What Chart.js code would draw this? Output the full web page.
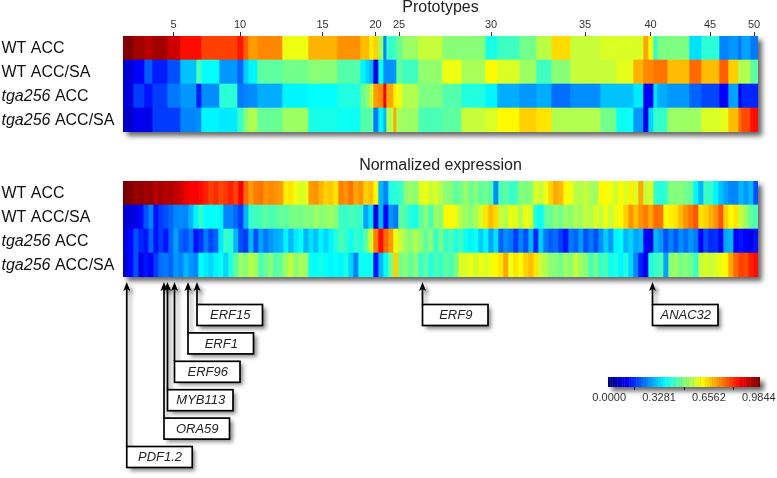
<!DOCTYPE html>
<html>
<head>
<meta charset="utf-8">
<script src="https://cdn.jsdelivr.net/npm/chart.js@4"></script>
<style>
html,body{margin:0;padding:0;background:#fff;width:777px;height:478px;overflow:hidden}
canvas{position:absolute}
</style>
</head>
<body>
<canvas id="proto" width="777" height="150" style="left:0;top:0;width:777px;height:150px"></canvas>
<canvas id="expr" width="777" height="328" style="left:0;top:150px;width:777px;height:328px"></canvas>
<canvas id="bar" width="217" height="60" style="left:560px;top:360px;width:217px;height:60px"></canvas>
<script>
const rowItalic = ['', '', 'tga256', 'tga256'];
const rowPlain = ['WT ACC', 'WT ACC/SA', ' ACC', ' ACC/SA'];
const protoTitle = 'Prototypes';
const exprTitle = 'Normalized expression';
const scaleMax = 0.9844;
const barTickValues = ['0.0000', '0.3281', '0.6562', '0.9844'];

const protoSizes = [10,11,8,15,13,16,5,18,18,6, 5,9,25,26,29,23,5,4,4,5, 5,3,7,3,6,16,24,19,24,12, 22,17,15,19,30,16,17,10,5,5, 4,10,22,12,18,9,10,3,9,8];
const protoWT = [.98,.95,.93,.95,.91,.85,.85,.80,.80,.84, .77,.71,.73,.60,.69,.72,.68,.68,.63,.66, .52,.25,.42,.43,.47,.52,.56,.50,.50,.39, .43,.48,.55,.65,.56,.58,.58,.58,.70,.60, .41,.49,.49,.34,.41,.25,.27,.23,.28,.24];
const protoWTSA = [.08,.125,.21,.15,.20,.31,.44,.37,.27,.22, .32,.36,.46,.48,.50,.45,.36,.33,.30,.10, .38,.26,.26,.27,.46,.43,.51,.60,.53,.62, .58,.52,.43,.50,.56,.56,.59,.69,.73,.73, .75,.75,.68,.76,.68,.77,.66,.54,.54,.46];
const protoTga = [.09,.18,.14,.18,.24,.27,.15,.26,.41,.24, .25,.26,.29,.36,.37,.40,.47,.50,.57,.71, .73,.87,.70,.63,.60,.54,.49,.45,.40,.36, .29,.27,.29,.23,.26,.31,.31,.35,.11,.12, .34,.29,.27,.22,.19,.12,.28,.10,.16,.16];
const protoTgaSA = [.07,.11,.10,.18,.18,.25,.26,.36,.35,.42, .50,.54,.47,.52,.39,.38,.45,.45,.46,.24, .36,.30,.54,.70,.53,.52,.44,.46,.56,.58, .62,.66,.64,.54,.54,.48,.38,.27,.11,.33, .42,.42,.52,.52,.58,.59,.68,.75,.79,.85];

const exprWT = [
 .99,.98,.96,.97,.95,.96,.93,.95,.93,.94,.92,.91,.88,.86,.87,.85,.83,.80,.82,.79,.81,.83,.80,.87,.76,
 .71,.74,.75,.72,.73,.72,.71,.63,.64,.60,.58,.59,.71,.72,.69,.66,.67,.64,.74,.72,.75,.70,.72,.66,.68,.62,
 .30,.25,.40,.41,.42,.50,.52,.50,.58,.60,.56,.58,.54,.50,.50,.46,.48,.52,.47,.50,.46,.48,.45,.26,.44,.46,
 .42,.43,.50,.49,.50,.58,.56,.60,.66,.70,.68,.62,.60,.55,.54,.56,.53,.52,.62,.62,.60,.57,.62,.58,.63,.58,
 .70,.56,.58,.42,.40,.42,.50,.49,.50,.48,.47,.36,.30,.43,.42,.36,.31,.28,.25,.25,.30,.27,.30,.20];
const exprWTSA = [
 .08,.09,.10,.13,.20,.25,.14,.18,.20,.22,.25,.26,.25,.30,.36,.42,.37,.37,.38,.36,.25,.25,.22,.18,.30,
 .42,.43,.44,.46,.44,.45,.47,.46,.48,.49,.48,.50,.49,.52,.50,.51,.52,.50,.43,.42,.44,.43,.42,.28,.34,.10,
 .30,.12,.27,.24,.46,.44,.40,.39,.46,.50,.44,.52,.50,.62,.62,.60,.54,.52,.50,.53,.58,.64,.68,.65,.56,.54,
 .60,.58,.54,.60,.58,.40,.37,.46,.47,.50,.48,.52,.50,.54,.52,.56,.54,.58,.56,.60,.56,.60,.62,.66,.72,.68,
 .72,.74,.70,.76,.75,.62,.63,.64,.68,.72,.75,.78,.64,.66,.69,.72,.78,.66,.62,.64,.56,.52,.46,.44];
const exprTga = [
 .10,.13,.20,.16,.14,.22,.14,.18,.14,.22,.28,.22,.20,.24,.14,.17,.24,.19,.22,.35,.42,.41,.30,.20,.18,
 .30,.20,.28,.24,.27,.29,.30,.36,.30,.35,.37,.30,.34,.31,.36,.33,.36,.40,.44,.42,.38,.42,.40,.46,.57,.74,
 .85,.76,.71,.60,.56,.52,.50,.54,.50,.46,.50,.42,.48,.42,.44,.40,.43,.38,.36,.38,.32,.36,.28,.34,.22,.26,
 .24,.18,.25,.20,.30,.16,.32,.24,.21,.23,.18,.14,.24,.22,.27,.20,.24,.20,.26,.32,.27,.36,.37,.30,.33,.28,
 .30,.12,.10,.30,.27,.20,.25,.21,.26,.23,.27,.24,.12,.20,.16,.17,.12,.28,.30,.12,.14,.12,.10,.14];
const exprTgaSA = [
 .08,.13,.20,.10,.14,.12,.18,.23,.24,.22,.27,.25,.30,.27,.25,.37,.35,.33,.36,.38,.33,.40,.46,.52,.50,
 .55,.52,.44,.47,.50,.45,.47,.52,.56,.50,.53,.52,.38,.37,.39,.37,.36,.37,.36,.39,.33,.25,.38,.38,.38,.14,
 .30,.37,.48,.66,.48,.50,.46,.50,.42,.46,.40,.44,.42,.46,.44,.48,.58,.58,.60,.57,.60,.58,.60,.62,.64,.70,
 .60,.64,.62,.66,.68,.64,.56,.54,.50,.50,.48,.52,.50,.56,.52,.50,.44,.48,.42,.44,.38,.40,.36,.40,.33,.25,
 .15,.11,.40,.42,.44,.28,.50,.52,.48,.50,.48,.42,.56,.58,.56,.58,.60,.62,.70,.76,.80,.79,.83,.85];

const geneNames = ['PDF1.2','ORA59','MYB113','ERF96','ERF1','ERF15','ERF9','ANAC32'];
const geneColumns = [0.75,8.2,8.9,10.3,13,14.8,59.9,105.9];
const geneTiers = [5,4,3,2,1,0,0,0];

const FONT = '"Liberation Sans", Arial, sans-serif';
Chart.defaults.font.family = FONT;
Chart.defaults.animation = false;

function clamp01(x){return Math.max(0,Math.min(1,x));}
function jet(v){
  const t = v/scaleMax;
  const r = clamp01(Math.min(4*t-1.5,-4*t+4.5));
  const g = clamp01(Math.min(4*t-0.5,-4*t+3.5));
  const b = clamp01(Math.min(4*t+0.5,-4*t+2.5));
  return `rgb(${Math.round(r*255)},${Math.round(g*255)},${Math.round(b*255)})`;
}

const shadowPlugin = {
  id:'areaShadow',
  beforeDatasetsDraw(chart){
    const a = chart.chartArea, c = chart.ctx;
    c.save();
    c.shadowColor = 'rgba(0,0,0,0.6)';
    c.shadowBlur = 5;
    c.shadowOffsetX = 4;
    c.shadowOffsetY = 4;
    c.fillStyle = '#888';
    c.fillRect(a.left,a.top,a.right-a.left,a.bottom-a.top);
    c.restore();
  }
};

const rowLabelPlugin = {
  id:'rowLabels',
  afterDraw(chart){
    const c = chart.ctx, y = chart.scales.y;
    c.save();
    c.fillStyle = '#111';
    c.textBaseline = 'middle';
    c.textAlign = 'left';
    rowPlain.forEach((txt,i)=>{
      let x = 1.5;
      const py = y.getPixelForValue(i) + 1;
      if(rowItalic[i]){
        c.font = `italic 16px ${FONT}`;
        c.fillText(rowItalic[i],x,py);
        x += c.measureText(rowItalic[i]).width;
      }
      c.font = `16px ${FONT}`;
      c.fillText(txt,x,py);
    });
    c.restore();
  }
};

const genePlugin = {
  id:'genes',
  afterDraw(chart){
    const c = chart.ctx, xs = chart.scales.x, bottom = chart.chartArea.bottom;
    const boxW = 65.5, boxH = 21, tip = bottom+5;
    c.save();
    geneNames.forEach((name,i)=>{
      const x = xs.getPixelForValue(geneColumns[i]);
      const top = bottom + 27.5 + 28.4*geneTiers[i];
      c.save();
      c.shadowColor = 'rgba(0,0,0,0.45)';
      c.shadowBlur = 4;
      c.shadowOffsetX = 3;
      c.shadowOffsetY = 3;
      c.strokeStyle = '#000';
      c.fillStyle = '#000';
      c.lineWidth = 1.7;
      c.beginPath();
      c.moveTo(x,top);
      c.lineTo(x,tip+5);
      c.stroke();
      c.beginPath();
      c.moveTo(x,tip);
      c.lineTo(x+3.5,tip+9);
      c.lineTo(x,tip+7);
      c.lineTo(x-3.5,tip+9);
      c.closePath();
      c.fill();
      c.fillStyle = '#fff';
      c.fillRect(x,top,boxW,boxH);
      c.shadowColor = 'transparent';
      c.strokeRect(x,top,boxW,boxH);
      c.fillStyle = '#222';
      c.font = `italic 13px ${FONT}`;
      c.textAlign = 'center';
      c.textBaseline = 'middle';
      c.fillText(name,x+boxW/2+0.5,top+boxH/2+0.5);
      c.restore();
    });
    c.restore();
  }
};

function heatDatasets(sizes, rows){
  return sizes.map((w,k)=>({
    data: rows.map(()=>w),
    backgroundColor: rows.map(r=>jet(r[k])),
    borderWidth: 0,
    barPercentage: 1,
    categoryPercentage: 1
  }));
}

const protoRows = [protoWT,protoWTSA,protoTga,protoTgaSA];
const protoTotal = protoSizes.reduce((a,b)=>a+b,0);
const protoMids = [];
{let s=0; protoSizes.forEach((w,i)=>{ if((i+1)%5===0) protoMids.push({value:s+w/2,label:String(i+1)}); s+=w; });}

new Chart(document.getElementById('proto'),{
  type:'bar',
  data:{labels:rowPlain,datasets:heatDatasets(protoSizes,protoRows)},
  options:{
    indexAxis:'y',responsive:false,animation:false,
    layout:{padding:{left:123,right:19,top:0,bottom:18}},
    plugins:{legend:{display:false},tooltip:{enabled:false},
      title:{display:true,text:protoTitle,color:'#222',font:{size:16,weight:'normal',lineHeight:1},padding:{top:0,bottom:0}}},
    scales:{
      x:{type:'linear',position:'top',stacked:true,min:0,max:protoTotal,
        afterBuildTicks(s){s.ticks = protoMids.map(m=>({value:m.value}));},
        afterFit(s){s.height = 20;},
        grid:{drawOnChartArea:false,drawTicks:true,tickLength:4,color:'#333'},
        border:{display:false},
        ticks:{autoSkip:false,maxRotation:0,padding:0,color:'#333',font:{size:11},
          callback(v,i){return protoMids[i]?protoMids[i].label:'';}}},
      y:{type:'category',stacked:true,display:false}
    }
  },
  plugins:[shadowPlugin,rowLabelPlugin]
});

const exprRows = [exprWT,exprWTSA,exprTga,exprTgaSA];
const exprSizes = exprWT.map(()=>1);

new Chart(document.getElementById('expr'),{
  type:'bar',
  data:{labels:rowPlain,datasets:heatDatasets(exprSizes,exprRows)},
  options:{
    indexAxis:'y',responsive:false,animation:false,
    layout:{padding:{left:123,right:19,top:8,bottom:201}},
    plugins:{legend:{display:false},tooltip:{enabled:false},
      title:{display:true,text:exprTitle,color:'#222',font:{size:16,weight:'normal',lineHeight:1},padding:{top:0,bottom:7}}},
    scales:{
      x:{type:'linear',stacked:true,display:false,min:0,max:exprSizes.length},
      y:{type:'category',stacked:true,display:false}
    }
  },
  plugins:[shadowPlugin,rowLabelPlugin,genePlugin]
});

const barLevels = Array.from({length:64},(_,i)=>i*0.015625);
const barTickIdx = [0,21,42,63];
new Chart(document.getElementById('bar'),{
  type:'bar',
  data:{labels:barLevels.map(v=>v.toFixed(4)),
    datasets:[{data:barLevels.map(()=>1),backgroundColor:barLevels.map(jet),borderWidth:0,barPercentage:1.08,categoryPercentage:1}]},
  options:{
    responsive:false,animation:false,
    layout:{padding:{left:48,right:17,top:17,bottom:16}},
    plugins:{legend:{display:false},tooltip:{enabled:false}},
    scales:{
      x:{type:'category',
        afterBuildTicks(s){s.ticks = barTickIdx.map(v=>({value:v}));},
        afterFit(s){s.height = 17;},
        grid:{drawOnChartArea:false,drawTicks:true,tickLength:3,color:'#333'},
        border:{display:false},
        ticks:{autoSkip:false,maxRotation:0,padding:1,color:'#333',font:{size:11},
          callback(v,i){return barTickValues[i];}}},
      y:{min:0,max:1,display:false}
    }
  },
  plugins:[shadowPlugin]
});
</script>
</body>
</html>
